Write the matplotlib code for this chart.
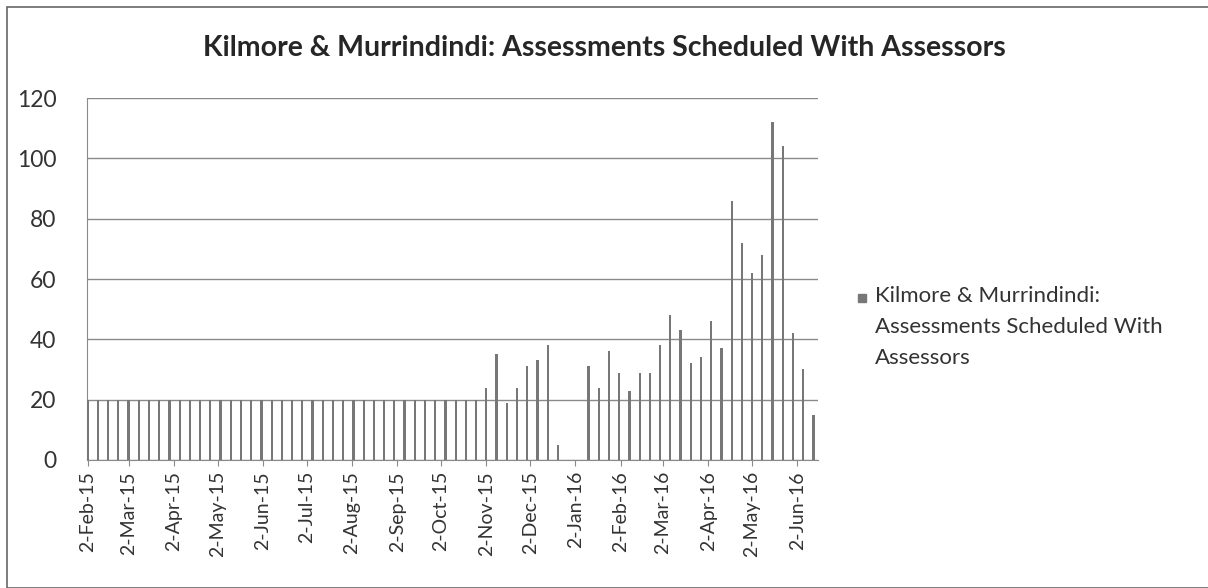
import matplotlib
matplotlib.use("Agg")
import matplotlib.pyplot as plt
from matplotlib.patches import Rectangle
import pandas as pd

plt.rcParams['font.family'] = ['Lato', 'DejaVu Sans']

# weekly counts, first week starting 2-Feb-2015
week_start = "2015-02-02"
counts = [20, 20, 20, 20, 20, 20, 20, 20, 20, 20,
          20, 20, 20, 20, 20, 20, 20, 20, 20, 20,
          20, 20, 20, 20, 20, 20, 20, 20, 20, 20,
          20, 20, 20, 20, 20, 20, 20, 20, 20,
          24, 35, 19, 24, 31, 33, 38, 5, 0, 0,
          31, 24, 36, 29, 23, 29, 29, 38, 48, 43,
          32, 34, 46, 37, 86, 72, 62, 68, 112, 104,
          42, 30, 15]
series_name = "Kilmore & Murrindindi:\nAssessments Scheduled With\nAssessors"
title = "Kilmore & Murrindindi: Assessments Scheduled With Assessors"
tick_dates = ["2015-02-02", "2015-03-02", "2015-04-02", "2015-05-02", "2015-06-02",
              "2015-07-02", "2015-08-02", "2015-09-02", "2015-10-02", "2015-11-02",
              "2015-12-02", "2016-01-02", "2016-02-02", "2016-03-02", "2016-04-02",
              "2016-05-02", "2016-06-02"]
tick_labels = ["2-Feb-15", "2-Mar-15", "2-Apr-15", "2-May-15", "2-Jun-15",
               "2-Jul-15", "2-Aug-15", "2-Sep-15", "2-Oct-15", "2-Nov-15",
               "2-Dec-15", "2-Jan-16", "2-Feb-16", "2-Mar-16", "2-Apr-16",
               "2-May-16", "2-Jun-16"]

dates = pd.date_range(week_start, periods=len(counts), freq="7D")

fig = plt.figure(figsize=(12.08, 5.88), dpi=100)
ax = fig.add_axes([0.072, 0.2177, 0.605, 0.6156])

bar_col = "#777777"
grid_col = "#8a8a8a"
txt_col = "#333333"
ax.bar(dates, counts, width=1.5, color=bar_col, zorder=3)

ax.set_ylim(0, 120)
ax.set_yticks(range(0, 121, 20))
ax.set_xlim(pd.Timestamp("2015-02-01 12:00"), pd.Timestamp("2016-06-16"))
ax.set_xticks(pd.to_datetime(tick_dates))
ax.set_xticklabels(tick_labels, rotation=90)

ax.yaxis.grid(True, color=grid_col, linewidth=1.0, zorder=0)
ax.set_axisbelow(True)
for s in ["top", "right"]:
    ax.spines[s].set_visible(False)
ax.spines["left"].set_color(grid_col)
ax.spines["bottom"].set_color(grid_col)
ax.tick_params(axis="y", length=0, pad=22, labelsize=16.5, colors=txt_col)
ax.tick_params(axis="x", length=4, color=grid_col, pad=4, labelsize=14, colors=txt_col)
ax.patch.set_alpha(0)

fig.text(0.5, 0.918, title, ha="center", va="center", fontsize=20.5,
         fontweight="bold", color="#262626")

# legend: square marker next to the first line of the series name
fig.patches.append(Rectangle((858 / 1208, 1 - 302 / 588), 8 / 1208, 8 / 588,
                             transform=fig.transFigure, color=bar_col))
fig.text(875 / 1208, 1 - 286 / 588, series_name, ha="left", va="top",
         fontsize=16, color=txt_col, linespacing=1.68)

fig.patches.append(Rectangle((0.006, 0.0), 1.2, 0.988, transform=fig.transFigure,
                             fill=False, edgecolor="#666666", linewidth=1.2))

fig.savefig("out.png", dpi=100)
